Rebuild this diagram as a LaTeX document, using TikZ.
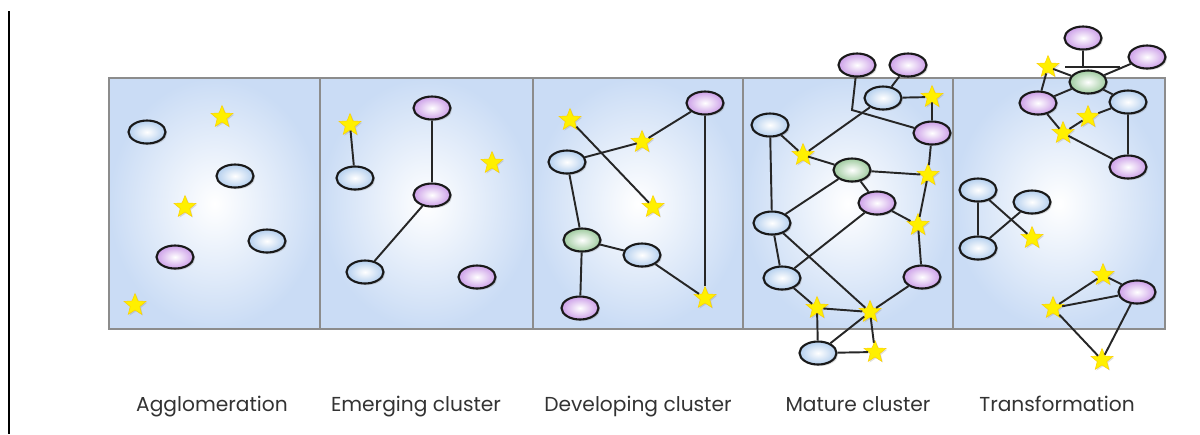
\documentclass[tikz,border=0pt]{standalone}
\usepackage{fontspec}
\setmainfont{Poppins}
\usetikzlibrary{shapes.geometric,shadows}
\definecolor{panelblue}{HTML}{CADCF5}
\definecolor{cellblue}{HTML}{B4CFEE}
\definecolor{cellpurple}{HTML}{CC9FE8}
\definecolor{cellgreen}{HTML}{9FCB9F}
\definecolor{staryellow}{HTML}{FFF000}

\begin{document}
\begin{tikzpicture}[x=0.02cm,y=-0.02cm,
    panel/.style={draw=gray!90,line width=0.6pt,shading=radial,inner color=white,outer color=panelblue},
    cell/.style={ellipse,draw=black!90,line width=1.2pt,minimum width=0.74cm,minimum height=0.46cm,inner sep=0pt,%
      drop shadow={shadow xshift=0.9pt,shadow yshift=-0.9pt,opacity=0.3}},
    bcell/.style={cell,shading=radial,inner color=white,outer color=cellblue},
    pcell/.style={cell,shading=radial,inner color=white,outer color=cellpurple},
    gcell/.style={cell,shading=radial,inner color=white,outer color=cellgreen},
    starnode/.style={star,star points=5,star point ratio=2.3,minimum size=0.46cm,inner sep=0pt,%
      fill=staryellow,draw=yellow!70!orange,line width=0.3pt,%
      drop shadow={shadow xshift=0.7pt,shadow yshift=-0.7pt,opacity=0.25}},
    link/.style={draw=black!85,line width=1.1pt},
    caption/.style={anchor=base,font=\fontsize{11.5}{14}\selectfont,text=black!80}]
  \useasboundingbox (0,0) rectangle (1200,434);
  \draw[line width=0.8pt] (9,11) -- (9,434);
  % panels
  \foreach \xa/\xb in {109/320,320/533,533/743,743/953,953/1165}
    \path[panel] (\xa,78) rectangle (\xb,329);

  % Agglomeration
  \node[bcell] (a1) at (147,132) {};
  \node[starnode] (a2) at (222,117) {};
  \node[bcell] (a3) at (235,176) {};
  \node[starnode] (a4) at (185,207) {};
  \node[bcell] (a5) at (267,241) {};
  \node[pcell] (a6) at (175,257) {};
  \node[starnode] (a7) at (135,305) {};

  % Emerging cluster
  \node[starnode] (e1) at (350,125) {};
  \node[bcell] (e2) at (355,178) {};
  \node[pcell] (e3) at (432,108) {};
  \node[starnode] (e4) at (492,163) {};
  \node[pcell] (e5) at (432,195) {};
  \node[bcell] (e6) at (365,272) {};
  \node[pcell] (e7) at (477,277) {};
  \draw[link] (e1) -- (e2);
  \draw[link] (e3) -- (e5);
  \draw[link] (e5) -- (e6);

  % Developing cluster
  \node[starnode] (d1) at (570,120) {};
  \node[pcell] (d2) at (705,103) {};
  \node[starnode] (d3) at (642,142) {};
  \node[bcell] (d4) at (567,162) {};
  \node[starnode] (d5) at (653,207) {};
  \node[gcell] (d6) at (582,240) {};
  \node[bcell] (d7) at (642,255) {};
  \node[pcell] (d8) at (580,308) {};
  \node[starnode] (d9) at (705,298) {};
  \draw[link] (d1) -- (d5);
  \draw[link] (d4) -- (d3) -- (d2);
  \draw[link] (d2) -- (d9);
  \draw[link] (d4) -- (d6) -- (d8);
  \draw[link] (d6) -- (d7) -- (d9);

  % Mature cluster
  \node[pcell] (m1) at (857,65) {};
  \node[pcell] (m2) at (908,65) {};
  \node[bcell] (m3) at (883,98) {};
  \node[starnode] (m4) at (932,97) {};
  \node[bcell] (m5) at (770,125) {};
  \node[pcell] (m6) at (932,133) {};
  \node[starnode] (m7) at (803,155) {};
  \node[gcell] (m8) at (852,170) {};
  \node[starnode] (m9) at (928,175) {};
  \node[pcell] (m10) at (877,203) {};
  \node[starnode] (m11) at (918,225) {};
  \node[bcell] (m12) at (772,223) {};
  \node[bcell] (m13) at (782,278) {};
  \node[pcell] (m14) at (922,277) {};
  \node[starnode] (m15) at (817,308) {};
  \node[starnode] (m16) at (870,312) {};
  \node[bcell] (m17) at (818,353) {};
  \node[starnode] (m18) at (875,352) {};
  \coordinate (mbend) at (852,110);
  \draw[link] (m1) -- (mbend) -- (m6);
  \draw[link] (m2) -- (m3) -- (m4) -- (m6) -- (m9);
  \draw[link] (m3) -- (m7);
  \draw[link] (m5) -- (m7) -- (m8) -- (m9) -- (m11) -- (m14);
  \draw[link] (m5) -- (m12);
  \draw[link] (m8) -- (m10) -- (m11);
  \draw[link] (m8) -- (m12) -- (m13);
  \draw[link] (m10) -- (m13) -- (m15) -- (m16) -- (m14);
  \draw[link] (m12) -- (m16);
  \draw[link] (m15) -- (m17) -- (m16) -- (m18) -- (m17);

  % Transformation
  \node[pcell] (t1) at (1083,38) {};
  \node[pcell] (t2) at (1147,57) {};
  \node[starnode] (t3) at (1048,67) {};
  \node[gcell] (t4) at (1088,82) {};
  \node[pcell] (t5) at (1038,103) {};
  \node[bcell] (t6) at (1128,102) {};
  \node[starnode] (t7) at (1088,117) {};
  \node[starnode] (t8) at (1063,133) {};
  \node[pcell] (t9) at (1128,167) {};
  \node[bcell] (t10) at (978,190) {};
  \node[bcell] (t11) at (1032,202) {};
  \node[bcell] (t12) at (978,248) {};
  \node[starnode] (t13) at (1032,238) {};
  \node[starnode] (t14) at (1103,275) {};
  \node[pcell] (t15) at (1137,292) {};
  \node[starnode] (t16) at (1053,308) {};
  \node[starnode] (t17) at (1102,360) {};
  \coordinate (tbarl) at (1065,67);
  \coordinate (tbarr) at (1120,67);
  \draw[link] (tbarl) -- (tbarr);
  \draw[link] (t1) -- (t1|-tbarl);
  \draw[link] (t3) -- (t4) -- (t2);
  \draw[link] (t3) -- (t5) -- (t4) -- (t6) -- (t7) -- (t8) -- (t5);
  \draw[link] (t8) -- (t9) -- (t6);
  \draw[link] (t10) -- (t12) -- (t11);
  \draw[link] (t10) -- (t13);
  \draw[link] (t16) -- (t14) -- (t15) -- (t16) -- (t17) -- (t15);

  % captions
  \node[caption] (c1) at (212,411) {Agglomeration};
  \node[caption] (c2) at (416,411) {Emerging cluster};
  \node[caption] (c3) at (638,411) {Developing cluster};
  \node[caption] (c4) at (858,411) {Mature cluster};
  \node[caption] (c5) at (1057,411) {Transformation};
\end{tikzpicture}
\end{document}
